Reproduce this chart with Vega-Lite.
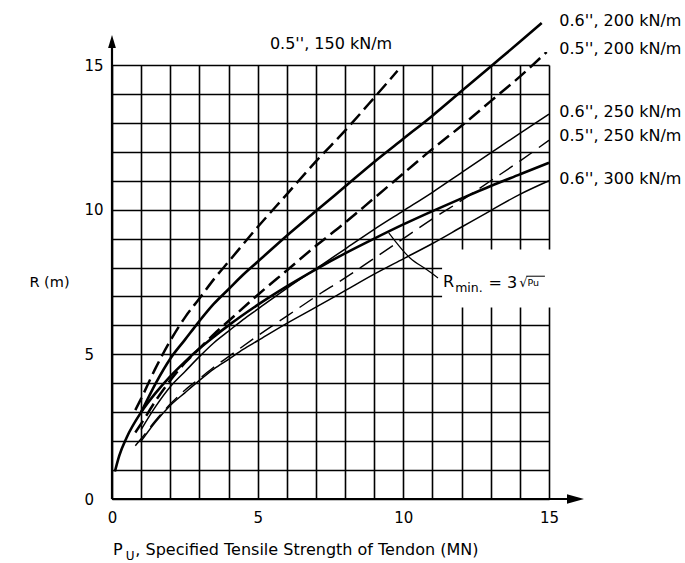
{
  "$schema": "https://vega.github.io/schema/vega-lite/v6.json",
  "width": 437,
  "height": 434,
  "autosize": {"type": "none"},
  "padding": {"left": 112, "top": 65, "right": 136, "bottom": 64},
  "background": "white",
  "config": {
    "view": {"stroke": null},
    "font": "DejaVu Sans",
    "axis": {
      "labelFont": "DejaVu Sans",
      "labelColor": "#000",
      "labelFontSize": 15,
      "grid": true,
      "gridColor": "#000",
      "gridOpacity": 1,
      "gridWidth": 1.6,
      "domain": false,
      "ticks": false,
      "tickSize": 0,
      "tickCount": 15,
      "labelExpr": "datum.value % 5 === 0 ? datum.label : ''",
      "labelOverlap": false,
      "labelFlush": false,
      "titleFont": "DejaVu Sans",
      "titleFontWeight": "normal",
      "titleColor": "#000"
    },
    "axisX": {"labelPadding": 11},
    "axisY": {"labelPadding": 28, "labelAlign": "left", "labelBaseline": "middle", "titleAngle": 0, "titleFontSize": 14.5, "titleAlign": "center", "titleBaseline": "middle", "titleX": -63, "titleY": 217}
  },
  "datasets": {
    "curves": [
      {"curve": "A", "P": 0.8, "R": 3.07}, {"curve": "A", "P": 1, "R": 3.47}, {"curve": "A", "P": 1.5, "R": 4.53}, {"curve": "A", "P": 2, "R": 5.47}, {"curve": "A", "P": 2.5, "R": 6.27}, {"curve": "A", "P": 3, "R": 6.93}, {"curve": "A", "P": 3.5, "R": 7.6}, {"curve": "A", "P": 4, "R": 8.2}, {"curve": "A", "P": 5, "R": 9.4}, {"curve": "A", "P": 6, "R": 10.53}, {"curve": "A", "P": 7, "R": 11.67}, {"curve": "A", "P": 8, "R": 12.73}, {"curve": "A", "P": 9, "R": 13.87}, {"curve": "A", "P": 9.8, "R": 14.8},
      {"curve": "B", "P": 1, "R": 3.0}, {"curve": "B", "P": 1.5, "R": 4.0}, {"curve": "B", "P": 2, "R": 4.85}, {"curve": "B", "P": 2.5, "R": 5.5}, {"curve": "B", "P": 3, "R": 6.15}, {"curve": "B", "P": 3.5, "R": 6.75}, {"curve": "B", "P": 4, "R": 7.25}, {"curve": "B", "P": 4.5, "R": 7.75}, {"curve": "B", "P": 5, "R": 8.2}, {"curve": "B", "P": 6, "R": 9.1}, {"curve": "B", "P": 7, "R": 9.95}, {"curve": "B", "P": 8, "R": 10.8}, {"curve": "B", "P": 9, "R": 11.65}, {"curve": "B", "P": 10, "R": 12.45}, {"curve": "B", "P": 11, "R": 13.25}, {"curve": "B", "P": 12, "R": 14.1}, {"curve": "B", "P": 13, "R": 14.95}, {"curve": "B", "P": 14, "R": 15.8}, {"curve": "B", "P": 14.75, "R": 16.45},
      {"curve": "C", "P": 0.8, "R": 2.3}, {"curve": "C", "P": 1, "R": 2.6}, {"curve": "C", "P": 1.5, "R": 3.4}, {"curve": "C", "P": 2, "R": 4.1}, {"curve": "C", "P": 2.5, "R": 4.7}, {"curve": "C", "P": 3, "R": 5.2}, {"curve": "C", "P": 3.5, "R": 5.7}, {"curve": "C", "P": 4, "R": 6.15}, {"curve": "C", "P": 5, "R": 7.05}, {"curve": "C", "P": 6, "R": 7.9}, {"curve": "C", "P": 7, "R": 8.75}, {"curve": "C", "P": 8, "R": 9.55}, {"curve": "C", "P": 9, "R": 10.4}, {"curve": "C", "P": 10, "R": 11.25}, {"curve": "C", "P": 11, "R": 12.1}, {"curve": "C", "P": 12, "R": 12.9}, {"curve": "C", "P": 13, "R": 13.75}, {"curve": "C", "P": 14, "R": 14.6}, {"curve": "C", "P": 14.92, "R": 15.45},
      {"curve": "D", "P": 1, "R": 2.4}, {"curve": "D", "P": 1.5, "R": 3.2}, {"curve": "D", "P": 2, "R": 3.88}, {"curve": "D", "P": 2.5, "R": 4.4}, {"curve": "D", "P": 3, "R": 4.92}, {"curve": "D", "P": 3.5, "R": 5.4}, {"curve": "D", "P": 4, "R": 5.8}, {"curve": "D", "P": 4.5, "R": 6.2}, {"curve": "D", "P": 5, "R": 6.56}, {"curve": "D", "P": 6, "R": 7.28}, {"curve": "D", "P": 7, "R": 7.96}, {"curve": "D", "P": 8, "R": 8.64}, {"curve": "D", "P": 9, "R": 9.32}, {"curve": "D", "P": 10, "R": 9.96}, {"curve": "D", "P": 11, "R": 10.6}, {"curve": "D", "P": 12, "R": 11.28}, {"curve": "D", "P": 13, "R": 11.96}, {"curve": "D", "P": 14, "R": 12.64}, {"curve": "D", "P": 15, "R": 13.3},
      {"curve": "E", "P": 0.8, "R": 1.84}, {"curve": "E", "P": 1, "R": 2.08}, {"curve": "E", "P": 1.5, "R": 2.72}, {"curve": "E", "P": 2, "R": 3.28}, {"curve": "E", "P": 2.5, "R": 3.76}, {"curve": "E", "P": 3, "R": 4.16}, {"curve": "E", "P": 3.5, "R": 4.56}, {"curve": "E", "P": 4, "R": 4.92}, {"curve": "E", "P": 5, "R": 5.64}, {"curve": "E", "P": 6, "R": 6.32}, {"curve": "E", "P": 7, "R": 7.0}, {"curve": "E", "P": 8, "R": 7.64}, {"curve": "E", "P": 9, "R": 8.32}, {"curve": "E", "P": 10, "R": 9.0}, {"curve": "E", "P": 11, "R": 9.68}, {"curve": "E", "P": 12, "R": 10.32}, {"curve": "E", "P": 13, "R": 11.0}, {"curve": "E", "P": 14, "R": 11.68}, {"curve": "E", "P": 15, "R": 12.4},
      {"curve": "F", "P": 0.1, "R": 0.95}, {"curve": "F", "P": 0.25, "R": 1.5}, {"curve": "F", "P": 0.5, "R": 2.12}, {"curve": "F", "P": 1, "R": 3.0}, {"curve": "F", "P": 1.5, "R": 3.67}, {"curve": "F", "P": 2, "R": 4.24}, {"curve": "F", "P": 2.5, "R": 4.74}, {"curve": "F", "P": 3, "R": 5.2}, {"curve": "F", "P": 3.5, "R": 5.61}, {"curve": "F", "P": 4, "R": 6.0}, {"curve": "F", "P": 5, "R": 6.71}, {"curve": "F", "P": 6, "R": 7.35}, {"curve": "F", "P": 7, "R": 7.94}, {"curve": "F", "P": 8, "R": 8.49}, {"curve": "F", "P": 9, "R": 9.0}, {"curve": "F", "P": 10, "R": 9.49}, {"curve": "F", "P": 11, "R": 9.95}, {"curve": "F", "P": 12, "R": 10.39}, {"curve": "F", "P": 13, "R": 10.82}, {"curve": "F", "P": 14, "R": 11.22}, {"curve": "F", "P": 15, "R": 11.62},
      {"curve": "G", "P": 1, "R": 2.0}, {"curve": "G", "P": 1.5, "R": 2.67}, {"curve": "G", "P": 2, "R": 3.23}, {"curve": "G", "P": 2.5, "R": 3.67}, {"curve": "G", "P": 3, "R": 4.1}, {"curve": "G", "P": 3.5, "R": 4.5}, {"curve": "G", "P": 4, "R": 4.83}, {"curve": "G", "P": 4.5, "R": 5.17}, {"curve": "G", "P": 5, "R": 5.47}, {"curve": "G", "P": 6, "R": 6.07}, {"curve": "G", "P": 7, "R": 6.63}, {"curve": "G", "P": 8, "R": 7.2}, {"curve": "G", "P": 9, "R": 7.77}, {"curve": "G", "P": 10, "R": 8.3}, {"curve": "G", "P": 11, "R": 8.83}, {"curve": "G", "P": 12, "R": 9.4}, {"curve": "G", "P": 13, "R": 9.97}, {"curve": "G", "P": 14, "R": 10.53}, {"curve": "G", "P": 15, "R": 11.0}
    ],
    "labels": [
      {"label": "0.6'', 200 kN/m", "P": 15.35, "R": 16.52},
      {"label": "0.5'', 200 kN/m", "P": 15.35, "R": 15.55},
      {"label": "0.6'', 250 kN/m", "P": 15.35, "R": 13.36},
      {"label": "0.5'', 250 kN/m", "P": 15.35, "R": 12.55},
      {"label": "0.6'', 300 kN/m", "P": 15.35, "R": 11.06},
      {"label": "0.5'', 150 kN/m", "P": 5.42, "R": 15.73}
    ],
    "leader": [
      {"P": 11.19, "R": 7.64}, {"P": 10.81, "R": 7.92}, {"P": 10.23, "R": 8.33}, {"P": 9.5, "R": 9.2}
    ]
  },
  "layer": [
    {
      "data": {"name": "curves"},
      "transform": [{"filter": "datum.curve === 'F'"}],
      "mark": {"type": "line", "opacity": 0},
      "encoding": {
        "x": {"field": "P", "type": "quantitative", "scale": {"domain": [0, 15], "nice": false, "zero": false}, "axis": {"title": null}},
        "y": {"field": "R", "type": "quantitative", "scale": {"domain": [0, 15], "nice": false, "zero": false}, "axis": {"title": "R (m)"}}
      }
    },
    {
      "data": {"values": [{}]},
      "mark": {"type": "rect", "color": "white"},
      "encoding": {
        "x": {"datum": 11.33, "type": "quantitative"},
        "x2": {"datum": 15.3},
        "y": {"datum": 6.62, "type": "quantitative"},
        "y2": {"datum": 8.62}
      }
    },
    {
      "data": {"values": [{}]},
      "mark": {"type": "rule", "color": "#000", "strokeWidth": 2.2},
      "encoding": {
        "x": {"datum": 0, "type": "quantitative"},
        "x2": {"datum": 15.7},
        "y": {"datum": 0, "type": "quantitative"}
      }
    },
    {
      "data": {"values": [{}]},
      "mark": {"type": "rule", "color": "#000", "strokeWidth": 2.2},
      "encoding": {
        "x": {"datum": 0, "type": "quantitative"},
        "y": {"datum": 0, "type": "quantitative"},
        "y2": {"datum": 15.7}
      }
    },
    {
      "data": {"values": [{}]},
      "mark": {"type": "point", "shape": "M0,-1L0.6,1L-0.6,1Z", "filled": true, "color": "#000", "opacity": 1, "size": 169},
      "encoding": {
        "x": {"datum": 0, "type": "quantitative"},
        "y": {"datum": 15.81, "type": "quantitative"}
      }
    },
    {
      "data": {"values": [{}]},
      "mark": {"type": "point", "shape": "M1,0L-1,-0.55L-1,0.55Z", "filled": true, "color": "#000", "opacity": 1, "size": 289},
      "encoding": {
        "x": {"datum": 15.91, "type": "quantitative"},
        "y": {"datum": 0, "type": "quantitative"}
      }
    },
    {
      "data": {"name": "curves"},
      "transform": [{"filter": "datum.curve === 'D' || datum.curve === 'G'"}],
      "mark": {"type": "line", "color": "#000", "strokeWidth": 1.5, "interpolate": "monotone"},
      "encoding": {
        "x": {"field": "P", "type": "quantitative"},
        "y": {"field": "R", "type": "quantitative"},
        "detail": {"field": "curve"}
      }
    },
    {
      "data": {"name": "curves"},
      "transform": [{"filter": "datum.curve === 'E'"}],
      "mark": {"type": "line", "color": "#000", "strokeWidth": 1.4, "strokeDash": [16, 8], "interpolate": "monotone"},
      "encoding": {
        "x": {"field": "P", "type": "quantitative"},
        "y": {"field": "R", "type": "quantitative"},
        "detail": {"field": "curve"}
      }
    },
    {
      "data": {"name": "curves"},
      "transform": [{"filter": "datum.curve === 'A' || datum.curve === 'C'"}],
      "mark": {"type": "line", "color": "#000", "strokeWidth": 2.5, "strokeDash": [14, 6], "interpolate": "monotone"},
      "encoding": {
        "x": {"field": "P", "type": "quantitative"},
        "y": {"field": "R", "type": "quantitative"},
        "detail": {"field": "curve"}
      }
    },
    {
      "data": {"name": "curves"},
      "transform": [{"filter": "datum.curve === 'B' || datum.curve === 'F'"}],
      "mark": {"type": "line", "color": "#000", "strokeWidth": 2.6, "interpolate": "monotone"},
      "encoding": {
        "x": {"field": "P", "type": "quantitative"},
        "y": {"field": "R", "type": "quantitative"},
        "detail": {"field": "curve"}
      }
    },
    {
      "data": {"name": "leader"},
      "mark": {"type": "line", "color": "#000", "strokeWidth": 1.2, "interpolate": "monotone"},
      "encoding": {
        "x": {"field": "P", "type": "quantitative"},
        "y": {"field": "R", "type": "quantitative"},
        "order": {"field": "P", "sort": "descending"}
      }
    },
    {
      "data": {"name": "labels"},
      "mark": {"type": "text", "align": "left", "baseline": "middle", "fontSize": 16, "font": "DejaVu Sans", "color": "#000"},
      "encoding": {
        "x": {"field": "P", "type": "quantitative"},
        "y": {"field": "R", "type": "quantitative"},
        "text": {"field": "label"}
      }
    },
    {
      "data": {"values": [{}]},
      "mark": {"type": "text", "align": "left", "baseline": "alphabetic", "fontSize": 16, "font": "DejaVu Sans", "color": "#000"},
      "encoding": {
        "x": {"datum": 11.36, "type": "quantitative"},
        "y": {"datum": 7.33, "type": "quantitative"},
        "text": {"value": "R"}
      }
    },
    {
      "data": {"values": [{}]},
      "mark": {"type": "text", "align": "left", "baseline": "alphabetic", "fontSize": 12.5, "font": "DejaVu Sans", "color": "#000"},
      "encoding": {
        "x": {"datum": 11.78, "type": "quantitative"},
        "y": {"datum": 7.16, "type": "quantitative"},
        "text": {"value": "min."}
      }
    },
    {
      "data": {"values": [{}]},
      "mark": {"type": "text", "align": "left", "baseline": "alphabetic", "fontSize": 16, "font": "DejaVu Sans", "color": "#000"},
      "encoding": {
        "x": {"datum": 12.92, "type": "quantitative"},
        "y": {"datum": 7.29, "type": "quantitative"},
        "text": {"value": "= 3"}
      }
    },
    {
      "data": {"values": [{}]},
      "mark": {"type": "text", "align": "left", "baseline": "alphabetic", "fontSize": 13, "font": "DejaVu Sans", "color": "#000"},
      "encoding": {
        "x": {"datum": 13.98, "type": "quantitative"},
        "y": {"datum": 7.33, "type": "quantitative"},
        "text": {"value": "√"}
      }
    },
    {
      "data": {"values": [{}]},
      "mark": {"type": "text", "align": "left", "baseline": "alphabetic", "fontSize": 9.5, "font": "DejaVu Sans", "color": "#000"},
      "encoding": {
        "x": {"datum": 14.26, "type": "quantitative"},
        "y": {"datum": 7.36, "type": "quantitative"},
        "text": {"value": "Pu"}
      }
    },
    {
      "data": {"values": [{}]},
      "mark": {"type": "rule", "color": "#000", "strokeWidth": 1},
      "encoding": {
        "x": {"datum": 14.22, "type": "quantitative"},
        "x2": {"datum": 14.86},
        "y": {"datum": 7.7, "type": "quantitative"}
      }
    },
    {
      "data": {"values": [{}]},
      "mark": {"type": "text", "align": "left", "baseline": "alphabetic", "fontSize": 16, "font": "DejaVu Sans", "color": "#000"},
      "encoding": {
        "x": {"datum": 0.034, "type": "quantitative"},
        "y": {"datum": -1.94, "type": "quantitative"},
        "text": {"value": "P"}
      }
    },
    {
      "data": {"values": [{}]},
      "mark": {"type": "text", "align": "left", "baseline": "alphabetic", "fontSize": 12, "font": "DejaVu Sans", "color": "#000"},
      "encoding": {
        "x": {"datum": 0.47, "type": "quantitative"},
        "y": {"datum": -2.1, "type": "quantitative"},
        "text": {"value": "U"}
      }
    },
    {
      "data": {"values": [{}]},
      "mark": {"type": "text", "align": "left", "baseline": "alphabetic", "fontSize": 16, "font": "DejaVu Sans", "color": "#000"},
      "encoding": {
        "x": {"datum": 0.8, "type": "quantitative"},
        "y": {"datum": -1.94, "type": "quantitative"},
        "text": {"value": ", Specified Tensile Strength of Tendon (MN)"}
      }
    }
  ]
}
